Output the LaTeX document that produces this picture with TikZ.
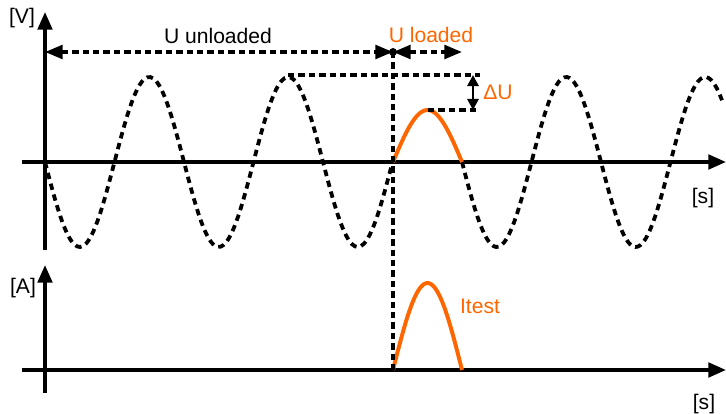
\documentclass[tikz,border=0pt]{standalone}
\usepackage{fontspec}
\setmainfont{Liberation Sans}
\usepackage{xcolor}
\usetikzlibrary{arrows.meta}
\definecolor{loadorange}{RGB}{255,102,0}

\begin{document}
\begin{tikzpicture}[
    x=0.025cm, y=-0.025cm,
    font=\fontsize{15}{18}\selectfont,
    axis/.style={line width=2.6pt, -{Triangle[length=0.44cm,width=0.36cm]}},
    dimarr/.style={line width=2.5pt, dash pattern=on 0.16cm off 0.1cm, {Triangle[length=0.44cm,width=0.34cm]}-{Triangle[length=0.44cm,width=0.34cm]}},
    guide/.style={line width=2.5pt, dash pattern=on 0.16cm off 0.1cm},
    wave/.style={line width=2.7pt, dash pattern=on 0.16cm off 0.12cm},
    pulse/.style={line width=2.8pt, loadorange},
    lbl/.style={inner sep=0pt},
    olbl/.style={inner sep=0pt, text=loadorange},
]
\useasboundingbox (0,0) rectangle (726,414);

% Coordinates
\coordinate (vbot) at (45,250);
\coordinate (vtop) at (45,12);
\coordinate (sleft) at (22,162);
\coordinate (sright) at (726,162);
\coordinate (abot) at (45,393);
\coordinate (atop) at (45,265);
\coordinate (ileft) at (22,370);
\coordinate (iright) at (726,370);
\coordinate (loadpt) at (393,52);
\coordinate (loadend) at (462,52);
\coordinate (vaxpt) at (45,52);
\coordinate (peakfull) at (288,75);
\coordinate (peakload) at (428,110);
\coordinate (dutop) at (480,75);
\coordinate (dubot) at (480,110);
\coordinate (arrtop) at (473,75);
\coordinate (arrbot) at (473,110);
\coordinate (vline) at (393,370);

% Axes
\draw[axis] (vbot) -- (vtop);
\draw[axis] (sleft) -- (sright);
\draw[axis] (abot) -- (atop);
\draw[axis] (ileft) -- (iright);

% Unloaded sine wave
\draw[wave] plot[domain=45:393, samples=120, smooth] (\x, {162+85*sin((\x-45)/139*360)});
\draw[wave] plot[domain=462:722, samples=100, smooth] (\x, {162+85*sin((\x-45)/139*360)});

% Loaded half wave and test current
\draw[pulse] plot[domain=393:462, samples=40, smooth] (\x, {162-52*sin((\x-393)/69*180)});
\draw[pulse] plot[domain=393:462, samples=40, smooth] (\x, {370-87*sin((\x-393)/69*180)});

% Guides
\draw[guide] (loadpt) -- (vline);
\draw[guide] (peakfull) -- (dutop);
\draw[guide] (peakload) -- (dubot);
\draw[dimarr] (vaxpt) -- (loadpt);
\draw[dimarr] (loadpt) -- (loadend);
\draw[line width=2pt, {Triangle[length=0.28cm,width=0.28cm]}-{Triangle[length=0.28cm,width=0.28cm]}] (arrtop) -- (arrbot);
\fill (loadpt) circle (4);

% Labels
\node[lbl] (vunit) at (22,18) {[V]};
\node[lbl] (aunit) at (23,288) {[A]};
\node[lbl] (sunit) at (703,198) {[s]};
\node[lbl] (sunitb) at (704,404) {[s]};
\node[lbl] (unl) at (218,36) {U unloaded};
\node[olbl] (lod) at (431,35) {U loaded};
\node[olbl] (du) at (498,92) {ΔU};
\node[olbl] (itest) at (480,306) {Itest};
\end{tikzpicture}
\end{document}
